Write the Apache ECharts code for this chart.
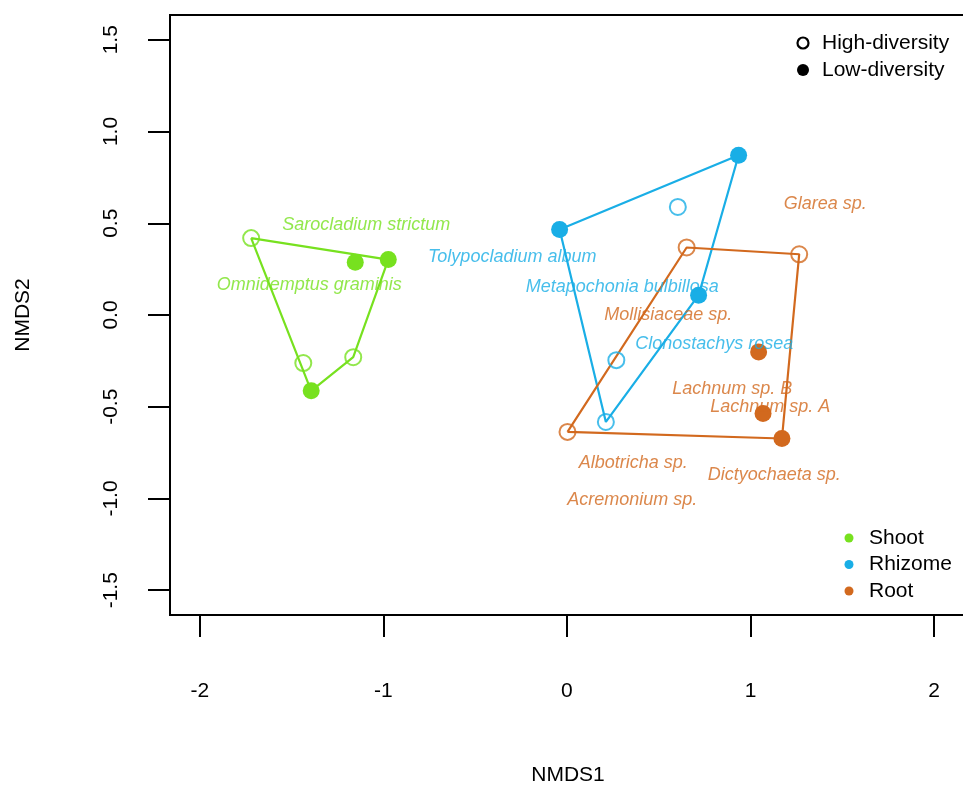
<!DOCTYPE html>
<html>
<head>
<meta charset="utf-8">
<script src="https://cdn.jsdelivr.net/npm/echarts@6/dist/echarts.min.js"></script>
<style>
html,body{margin:0;padding:0;background:#fff;overflow:hidden;}
#chart{width:963px;height:786px;}
</style>
</head>
<body>
<div id="chart"></div>
<script>
// ---- data ----
const xTicks = [-2, -1, 0, 1, 2];
const yTicks = [-1.5, -1.0, -0.5, 0.0, 0.5, 1.0, 1.5];

const shootHigh = [[-1.720, 0.419], [-1.436, -0.262], [-1.164, -0.230]];
const shootLow = [[-1.153, 0.288], [-0.973, 0.302], [-1.393, -0.413]];
const rhizomeHigh = [[0.604, 0.589], [0.269, -0.246], [0.212, -0.583]];
const rhizomeLow = [[-0.040, 0.466], [0.935, 0.871], [0.717, 0.108]];
const rootHigh = [[0.652, 0.368], [1.265, 0.331], [0.003, -0.637]];
const rootLow = [[1.044, -0.201], [1.068, -0.537], [1.171, -0.673]];

const shootTaxa = ["Sarocladium strictum", "Omnidemptus graminis"];
const shootTaxaXY = [[-1.093, 0.489], [-1.404, 0.162]];
const rhizomeTaxa = ["Tolypocladium album", "Metapochonia bulbillosa", "Clonostachys rosea"];
const rhizomeTaxaXY = [[-0.298, 0.315], [0.301, 0.151], [0.802, -0.159]];
const rootTaxa = ["Glarea sp.", "Mollisiaceae sp.", "Lachnum sp. B", "Lachnum sp. A", "Albotricha sp.", "Dictyochaeta sp.", "Acremonium sp."];
const rootTaxaXY = [[1.407, 0.604], [0.552, 0.000], [0.900, -0.404], [1.107, -0.502], [0.361, -0.807], [1.129, -0.873], [0.356, -1.009]];

const groups = ["Shoot", "Rhizome", "Root"];
const diversity = ["High-diversity", "Low-diversity"];

// ---- styling ----
const COLORS = {Shoot: "#77E11F", Rhizome: "#19AEE6", Root: "#D2691E"};
const FONT = "'Liberation Sans', Arial, sans-serif";

function hull(points) {
  const p = points.slice().sort((a, b) => a[0] - b[0] || a[1] - b[1]);
  const cross = (o, a, b) => (a[0] - o[0]) * (b[1] - o[1]) - (a[1] - o[1]) * (b[0] - o[0]);
  const lower = [], upper = [];
  for (const pt of p) {
    while (lower.length >= 2 && cross(lower[lower.length - 2], lower[lower.length - 1], pt) <= 0) lower.pop();
    lower.push(pt);
  }
  for (let i = p.length - 1; i >= 0; i--) {
    const pt = p[i];
    while (upper.length >= 2 && cross(upper[upper.length - 2], upper[upper.length - 1], pt) <= 0) upper.pop();
    upper.push(pt);
  }
  upper.pop(); lower.pop();
  const h = lower.concat(upper);
  h.push(h[0]);
  return h;
}

const sets = [
  {name: "Shoot", high: shootHigh, low: shootLow, taxa: shootTaxa, xy: shootTaxaXY},
  {name: "Rhizome", high: rhizomeHigh, low: rhizomeLow, taxa: rhizomeTaxa, xy: rhizomeTaxaXY},
  {name: "Root", high: rootHigh, low: rootLow, taxa: rootTaxa, xy: rootTaxaXY}
];

const series = [];
sets.forEach(s => {
  const c = COLORS[s.name];
  series.push({
    type: "line", name: s.name + " hull", data: hull(s.high.concat(s.low)),
    symbol: "none", lineStyle: {color: c, width: 2.2}, silent: true, z: 2, animation: false
  });
  series.push({
    type: "scatter", name: s.name + " high", data: s.high, symbol: "circle", symbolSize: 16,
    itemStyle: {color: "none", borderColor: c, borderWidth: 2}, z: 3, animation: false
  });
  series.push({
    type: "scatter", name: s.name + " low", data: s.low, symbol: "circle", symbolSize: 17,
    itemStyle: {color: c, opacity: 1}, z: 3, animation: false
  });
  series.push({
    type: "scatter", name: s.name + " taxa",
    data: s.taxa.map((t, i) => ({name: t, value: s.xy[i]})),
    symbolSize: 1, itemStyle: {color: "rgba(0,0,0,0)"},
    label: {show: true, position: "inside", formatter: p => p.name, color: c,
      fontStyle: "italic", fontSize: 18, fontFamily: FONT},
    z: 4, animation: false
  });
});

const chart = echarts.init(document.getElementById("chart"), null, {renderer: "canvas"});
chart.setOption({
  animation: false,
  backgroundColor: "#fff",
  grid: {left: 170, top: 15, width: 796, height: 600, show: true,
    outerBoundsMode: "none", containLabel: false,
    borderColor: "#000", borderWidth: 2, backgroundColor: "transparent"},
  xAxis: {
    type: "value", min: -2.162, max: 2.1735,
    name: "NMDS1", nameLocation: "middle", nameGap: 150,
    nameTextStyle: {fontSize: 21, fontFamily: FONT, color: "#000"},
    axisLine: {show: false, onZero: false},
    axisTick: {show: true, length: 22, inside: false, customValues: xTicks, lineStyle: {color: "#000", width: 2}},
    axisLabel: {show: true, customValues: xTicks, margin: 66, fontSize: 21, fontFamily: FONT, color: "#000",
      formatter: v => String(v)},
    splitLine: {show: false}
  },
  yAxis: {
    type: "value", min: -1.635, max: 1.635,
    name: "NMDS2", nameLocation: "middle", nameGap: 136,
    nameTextStyle: {fontSize: 21, fontFamily: FONT, color: "#000"},
    axisLine: {show: false, onZero: false},
    axisTick: {show: true, length: 22, inside: false, customValues: yTicks, lineStyle: {color: "#000", width: 2}},
    axisLabel: {show: true, customValues: yTicks, rotate: 90, margin: 48, fontSize: 21, fontFamily: FONT, color: "#000",
      formatter: v => v.toFixed(1)},
    splitLine: {show: false}
  },
  series: series,
  graphic: [
    {type: "circle", shape: {cx: 803, cy: 43, r: 5.5}, style: {fill: "none", stroke: "#000", lineWidth: 2.2}},
    {type: "text", x: 822, y: 43, style: {text: diversity[0], font: "21px " + FONT, fill: "#000", verticalAlign: "middle"}},
    {type: "circle", shape: {cx: 803, cy: 70, r: 6}, style: {fill: "#000"}},
    {type: "text", x: 822, y: 70, style: {text: diversity[1], font: "21px " + FONT, fill: "#000", verticalAlign: "middle"}},
    ...groups.map((g, i) => ({type: "circle", shape: {cx: 849, cy: 538 + i * 26.5, r: 4.5}, style: {fill: COLORS[g]}})),
    ...groups.map((g, i) => ({type: "text", x: 869, y: 538 + i * 26.5,
      style: {text: g, font: "21px " + FONT, fill: "#000", verticalAlign: "middle"}}))
  ]
});
</script>
</body>
</html>
